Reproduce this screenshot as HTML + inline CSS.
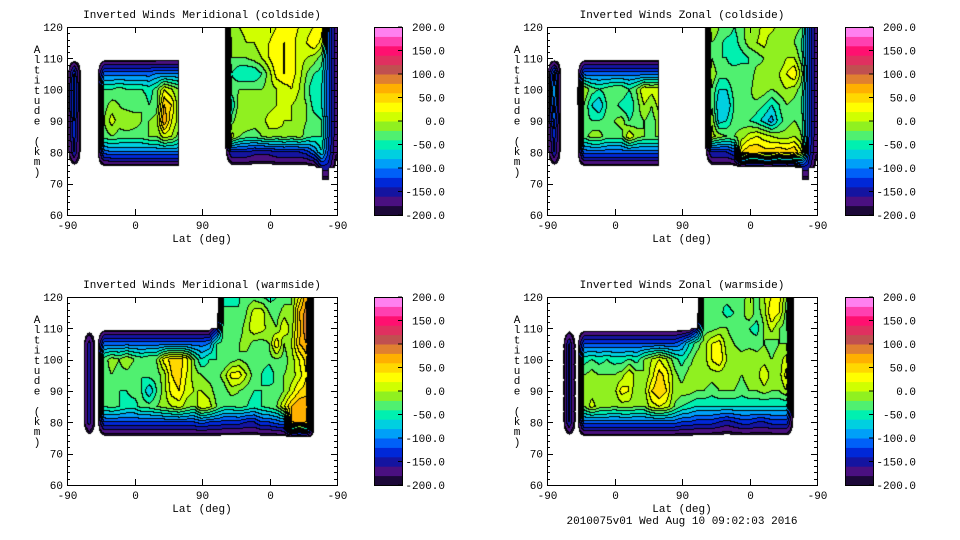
<!DOCTYPE html>
<html><head><meta charset="utf-8">
<style>
html,body{margin:0;padding:0;background:#fff;}
#wrap{position:relative;width:960px;height:540px;overflow:hidden;background:#fff;}
canvas{position:absolute;}
svg{position:absolute;left:0;top:0;}
text{font-family:"Liberation Mono",monospace;font-size:11px;fill:#000;}
</style></head>
<body>
<div id="wrap">
<svg id="svg" width="960" height="540"></svg>
</div>
<script>
const N = null;
const altLevels = [120,115,110,105,100,95,90,85,80,75,70];
const latStepDeg = 10;
const colorLevels = [-200,-180,-160,-140,-120,-100,-80,-60,-40,-20,0,20,40,60,80,100,120,140,160,180,200];
const levelColors = ["#1c0838","#4a1080","#1414a0","#0028d8","#0060f8","#00a0f8","#00d0e0","#00f0b0","#50f070","#90f020","#d0ff00","#ffff00","#ffd800","#ffb000","#e08030","#c05050","#e03060","#ff1070","#ff40b0","#ff80f0"];
const cbarTicks = [200,150,100,50,0,-50,-100,-150,-200];
const yTicks = [60,70,80,90,100,110,120];
const xTickLabels = ["-90","0","90","0","-90"];
const xTickPos = [0,90,180,270,360];
const blankBelow = -188;

const meridCold = [
[N,N,N,N, N,N,N,N,N,N,N,N,N,N,N,N, N,N,N,N,N, -200,0,0,10,10,10,10,20,30,30,20,10,20,40,-120,-180],
[N,N,N,N, N,N,N,N,N,N,N,N,N,N,N,N, N,N,N,N,N, -200,-10,-10,0,0,10,20,30,40,30,10,20,40,10,-120,-180],
[-200,-200,-200,N, -200,-200,-200,-200,-200,-200,-200,-200,-200,-200,-200,-200, N,N,N,N,N, -200,-20,-20,-20,-10,0,20,40,40,30,10,0,-10,-30,-120,-180],
[-200,-120,-200,N, -200,-110,-110,-110,-110,-110,-110,-110,-100,-100,-100,-100, N,N,N,N,N, -200,-40,-60,-60,-60,-40,-10,30,40,30,10,-20,-40,-50,-120,-180],
[-200,-110,-200,N, -200,-40,-40,-30,-40,-40,-40,-50,-30,20,0,-20, N,N,N,N,N, -200,-30,-20,-20,-20,-20,-10,0,10,20,0,-30,-60,-60,-120,-180],
[-200,-110,-200,N, -200,-30,-10,-20,-30,-30,-20,-40,-30,60,40,-20, N,N,N,N,N, -200,-60,-10,-10,-10,-10,-10,0,0,0,-10,-20,-50,-60,-120,-180],
[-200,-120,-200,N, -200,-20,10,-10,0,-10,-20,-20,-10,80,20,-10, N,N,N,N,N, -200,-30,0,0,-10,-10,10,20,0,0,-10,-20,-30,-40,-120,-180],
[-200,-130,-200,N, -200,-30,-20,-30,-30,-30,-30,-20,-20,10,0,-30, N,N,N,N,N, -200,10,-20,-30,-30,-20,-10,-20,-10,-20,-10,-30,-40,-40,-120,-180],
[-200,-140,-200,N, -200,-110,-100,-100,-100,-100,-100,-100,-100,-100,-100,-100, N,N,N,N,N, -200,-140,-140,-140,-150,-150,-150,-140,-140,-140,-140,-130,-100,-60,-130,-180],
[-200,-200,-200,N, -200,-200,-200,-200,-200,-200,-200,-200,-200,-200,-200,-200, N,N,N,N,N, -200,-200,-200,-200,-200,-200,-200,-200,-200,-200,-200,-200,-200,-150,-150,-200],
[N,N,N,N, N,N,N,N,N,N,N,N,N,N,N,N, N,N,N,N,N, N,N,N,N,N,N,N,N,N,N,N,N,N,-200,-200,N]
];
const zonalCold = [
[N,N,N,N, N,N,N,N,N,N,N,N,N,N,N,N, N,N,N,N,N, -200,0,-20,-20,-40,-30,0,-10,10,10,-10,-10,-10,-20,-120,-180],
[N,N,N,N, N,N,N,N,N,N,N,N,N,N,N,N, N,N,N,N,N, -200,-20,-30,-50,-50,-30,-10,0,10,-20,-20,-10,-20,-40,-120,-180],
[-200,-200,-200,N, -200,-200,-200,-200,-200,-200,-200,-200,-200,-200,-200,-200, N,N,N,N,N, -200,-20,-40,-40,-60,-50,-40,-30,-20,-10,-20,0,0,-30,-120,-180],
[-200,-100,-200,N, -200,-110,-110,-110,-110,-110,-110,-110,-110,-110,-110,-110, N,N,N,N,N, -200,0,-30,-30,-20,-20,-40,-10,-10,-20,0,20,40,-10,-120,-180],
[-200,-80,-200,N, -200,0,-30,-40,-30,-20,-20,-40,-20,20,10,20, N,N,N,N,N, -200,-20,-60,-60,-30,-20,-30,0,-10,-20,-10,0,-10,-30,-120,-180],
[-200,-90,-200,N, -200,-20,-60,-80,-40,-30,-50,-60,-30,0,-20,10, N,N,N,N,N, -200,-20,-80,-80,-40,-30,-20,-30,-40,-60,-40,-20,-30,-40,-120,-180],
[-200,-110,-200,N, -200,-30,-40,-40,-30,-20,-10,-40,-30,-20,-30,-10, N,N,N,N,N, -200,0,-70,-60,-30,-30,-40,-50,-70,-90,-50,-30,-20,-30,-120,-180],
[-200,-130,-200,N, -200,-30,-10,-10,-30,-30,-30,20,-10,-20,-20,-20, N,N,N,N,N, -200,10,-10,-20,-20,-10,10,20,10,0,-10,-10,0,-20,-120,-180],
[-200,-140,-200,N, -200,-110,-110,-110,-110,-110,-110,-110,-110,-110,-110,-110, N,N,N,N,N, -200,-140,-140,-140,-120,40,60,60,50,50,60,50,60,20,-130,-180],
[-200,-200,-200,N, -200,-200,-200,-200,-200,-200,-200,-200,-200,-200,-200,-200, N,N,N,N,N, -200,-200,-200,-200,-200,-200,-200,-200,-200,-200,-200,-200,-200,-150,-150,-200],
[N,N,N,N, N,N,N,N,N,N,N,N,N,N,N,N, N,N,N,N,N, N,N,N,N,N,N,N,N,N,N,N,N,N,-200,-200,N]
];
const meridWarm = [
[N,N,N,N,N,N,N,N,N,N,N,N,N,N,N,N,N,N,N,N, -200,-60,-60,-40,-30,-30,-40,-50,-40,-30,-20,20,80,-200, N,N,N],
[N,N,N,N,N,N,N,N,N,N,N,N,N,N,N,N,N,N,N,N, -200,-30,-30,-40,-20,10,10,-20,-30,-10,-20,60,90,-200, N,N,N],
[N,-200, -200,-200,-200,-200,-200,-200,-200,-200,-200,-200,-200,-200,-200,-200,-200,-200, -200,-200, -150, -20,-30,-30,-10,20,10,-10,-20,20,-10,50,100, -200, N,N,N],
[N,-200, -200,-150,-200, -110,-110,-110,-110,-110,-110,-110,-110,-110,-110,-110,-110,-110, -110,-100, -40,-30,-30,-20,-10,-30,-30,-20,40,-20,0,60,80, -200, N,N,N],
[N,-200, -200,-150,-200, -30,-10,-20,0,-20,-30,-20,-20,30,50,50,30,-20, -60,-40, -40,-40,-30,-20,-30,-40,-30,-30,-20,-30,-10,20,50, -200, N,N,N],
[N,-200, -200,-150,-200, -30,-20,-30,-30,-40,-40,-30,-30,-10,40,50,20,-10, -20,-30, -30,-10,30,30,0,-30,-40,-60,-30,-20,-10,10,40, -200, N,N,N],
[N,-200, -200,-150,-200, -30,-40,-40,-40,-30,-40,-80,-40,-10,30,40,10,0, 0,-10, -30,-30,-10,-20,-30,-40,-40,-30,-40,-20,10,40,50, -200, N,N,N],
[N,-200, -200,-150,-200, -40,-30,-40,-50,-50,-30,-30,-20,-10,0,10,-10,-20, 20,10, -20,-40,-40,-30,-40,-50,-40,-30,-20,20,60,80,80, -200, N,N,N],
[N,-200, -200,-150,-200, -120,-120,-120,-120,-120,-120,-120,-120,-120,-120,-120,-120,-120, -110,-120, -120,-130,-130,-130,-140,-140,-120,-120,-110,-100,60,70,60, -200, N,N,N],
[N,-200, -200,-200,-200, -200,-200,-200,-200,-200,-200,-200,-200,-200,-200,-200,-200,-200, -200,-200, -200,-200,-200,-200,-200,-200,-200,-200,-200,-200,-200,-200,-200, -200, N,N,N],
[N,N,N,N,N,N,N,N,N,N,N,N,N,N,N,N,N,N,N,N,N,N,N,N,N,N,N,N,N,N,N,N,N,N,N,N,N]
];
const zonalWarm = [
[N,N,N,N,N,N,N,N,N,N,N,N,N,N,N,N,N,N,N,N, -200,-40,-30,-40,-30,-20,-30,-10,-30,0,20,30,-20,-200, N,N,N],
[N,N,N,N,N,N,N,N,N,N,N,N,N,N,N,N,N,N,N,N, -200,-40,-40,-30,-50,-40,-30,0,-30,-10,40,20,-30,-200, N,N,N],
[N,-200, -200,-200,-200,-200,-200,-200,-200,-200,-200,-200,-200,-200,-200,-200,-200,-200, -200,-200, -150, -30,-30,-20,-20,-30,-20,-40,-50,-20,10,-20,-30, -200, N,N,N],
[N,-200, -200,-140,-200, -120,-120,-120,-120,-120,-120,-120,-120,-120,-120,-120,-120,-120, -100,-60, -30,-10,20,30,-10,-20,-30,-30,-30,-20,-30,-20,-20, -200, N,N,N],
[N,-200, -200,-140,-200, -50,-40,-50,-40,-50,-50,-40,-50,-20,0,20,0,-30, -50,-30, -10,-10,20,40,0,-10,-10,0,-10,-10,-20,-10,10, -200, N,N,N],
[N,-200, -200,-140,-200, -20,-10,-20,-20,-20,-10,20,-10,-20,10,50,30,-10, -30,-10, -10,-10,-10,-10,-20,-10,-20,-10,-10,20,-10,-10,30, -200, N,N,N],
[N,-200, -200,-140,-200, -20,-10,-10,-20,-10,30,20,-20,-10,40,60,40,-10, -10,-10, -20,-20,-30,-20,-20,-20,-30,-20,-20,-10,-20,-20,0, -200, N,N,N],
[N,-200, -200,-140,-200, -20,10,-10,-10,-20,-10,-10,-20,-20,10,20,10,-20, -40,-50, -60,-60,-60,-60,-60,-60,-60,-60,-60,-60,-60,-60,-60, -200, N,N,N],
[N,-200, -200,-140,-200, -110,-110,-110,-110,-110,-110,-110,-110,-110,-110,-110,-110,-110, -120,-120, -130,-130,-130,-140,-150,-140,-130,-130,-140,-140,-130,-130,-130, -200, N,N,N],
[N,-200, -200,-200,-200, -200,-200,-200,-200,-200,-200,-200,-200,-200,-200,-200,-200,-200, -200,-200, -200,-200,-200,-200,-200,-200,-200,-200,-200,-200,-200,-200,-200, -200, N,N,N],
[N,N,N,N,N,N,N,N,N,N,N,N,N,N,N,N,N,N,N,N,N,N,N,N,N,N,N,N,N,N,N,N,N,N,N,N,N]
];

const panels = [
 {name:"meridional-coldside", title:"Inverted Winds Meridional (coldside)", grid:meridCold, px:67, py:27, cbx:374},
 {name:"zonal-coldside", title:"Inverted Winds Zonal (coldside)", grid:zonalCold, px:547, py:27, cbx:845},
 {name:"meridional-warmside", title:"Inverted Winds Meridional (warmside)", grid:meridWarm, px:67, py:297, cbx:374},
 {name:"zonal-warmside", title:"Inverted Winds Zonal (warmside)", grid:zonalWarm, px:547, py:297, cbx:845}
];
const PW = 270, PH = 188;
const NS = "http://www.w3.org/2000/svg";
const svg = document.getElementById('svg');
const wrap = document.getElementById('wrap');

function xScale(p, d){ return p.px + d/360*PW; }
function yScale(p, a){ return p.py + (120-a)/60*PH; }
function levelOf(v){ let l = Math.floor((v+200)/20); return Math.max(0, Math.min(19, l)); }
function mk(tag, attrs, parent){
  const e = document.createElementNS(NS, tag);
  for (const k in attrs) e.setAttribute(k, attrs[k]);
  (parent||svg).appendChild(e); return e;
}
function txt(x,y,s,anchor,parent){
  const t = mk('text',{x:x,y:y,'text-anchor':anchor||'middle'},parent);
  t.textContent = s; return t;
}
function hexRGB(h){ return [parseInt(h.substr(1,2),16),parseInt(h.substr(3,2),16),parseInt(h.substr(5,2),16)]; }
const rgbColors = levelColors.map(hexRGB);

panels.forEach(function(p){
  const g = p.grid;
  const nr = g.length, nc = g[0].length;
  const cv = document.createElement('canvas');
  cv.width = PW; cv.height = PH;
  cv.style.left = p.px+'px'; cv.style.top = p.py+'px';
  
  
  wrap.insertBefore(cv, svg);
  const ctx = cv.getContext('2d');
  const lv = new Int16Array(PW*PH);
  const topAlt = altLevels[0], stepAlt = altLevels[0]-altLevels[1];
  for (let y=0;y<PH;y++){
    const alt = 120 - (y+0.5)/PH*60;
    const rf = (topAlt-alt)/stepAlt;
    let j0 = Math.floor(rf); if (j0 > nr-2) j0 = nr-2; if (j0<0) j0=0;
    const fy = rf - j0;
    for (let x=0;x<PW;x++){
      const d = (x+0.5)/PW*360;
      const cf = d/latStepDeg;
      let i0 = Math.floor(cf); if (i0 > nc-2) i0 = nc-2;
      const fx = cf - i0;
      const a=g[j0][i0], b=g[j0][i0+1], c=g[j0+1][i0], e=g[j0+1][i0+1];
      if (a===null||b===null||c===null||e===null || rf>nr-1){ lv[y*PW+x] = -1; continue; }
      const v = a*(1-fx)*(1-fy) + b*fx*(1-fy) + c*(1-fx)*fy + e*fx*fy;
      lv[y*PW+x] = v < blankBelow ? -1 : levelOf(v);
    }
  }
  const img = ctx.createImageData(PW, PH);
  for (let y=0;y<PH;y++) for (let x=0;x<PW;x++){
    const k = y*PW+x, l = lv[k], o = k*4;
    if (l<0){ img.data[o+3]=0; continue; }
    let line = false;
    if (x<PW-1 && lv[k+1]!==l) line = true;
    if (y<PH-1 && lv[k+PW]!==l) line = true;
    if (x>0 && lv[k-1]<0) line = true;
    if (y>0 && lv[k-PW]<0) line = true;
    const c = line ? [0,0,0] : rgbColors[l];
    img.data[o]=c[0]; img.data[o+1]=c[1]; img.data[o+2]=c[2]; img.data[o+3]=255;
  }
  ctx.putImageData(img,0,0);

  const frame = mk('rect',{x:p.px+0.5,y:p.py+0.5,width:PW,height:PH,fill:'none',stroke:'#000','stroke-width':1});
  
  
  const tt = txt(p.px+PW/2, p.py-9, p.title);
  
  
  for (let a=60; a<=120; a+=2){
    const y = Math.round(yScale(p,a))+0.5;
    const len = (a%10===0)?6:3;
    mk('line',{x1:p.px,x2:p.px+len,y1:y,y2:y,stroke:'#000'});
    mk('line',{x1:p.px+PW-len,x2:p.px+PW,y1:y,y2:y,stroke:'#000'});
  }
  yTicks.forEach(function(a){
    const t = txt(p.px-4, yScale(p,a)+4, String(a), 'end');
    
    
  });
  xTickPos.forEach(function(d,i){
    const x = Math.round(xScale(p,d))+0.5;
    mk('line',{x1:x,x2:x,y1:p.py,y2:p.py+6,stroke:'#000'});
    mk('line',{x1:x,x2:x,y1:p.py+PH-6,y2:p.py+PH,stroke:'#000'});
    const t = txt(x, p.py+PH+14, xTickLabels[i]);
    
    
  });
  const xl = txt(p.px+PW/2, p.py+PH+27, "Lat (deg)");
  
  
  const ylab = "Altitude (km)";
  const yg = mk('g',{});
  
  
  for (let i=0;i<ylab.length;i++){
    if (ylab[i]===' ') continue;
    txt(p.px-30, p.py+26+i*10.2, ylab[i], 'middle', yg);
  }
  const cbg = mk('g',{});
  
  
  const bh = PH/20, bw = 28;
  for (let i=0;i<20;i++){
    const r = mk('rect',{x:p.cbx, y:p.py+(200-colorLevels[i+1])/400*PH, width:bw, height:bh+0.5, fill:levelColors[i]}, cbg);
    
    
  }
  mk('rect',{x:p.cbx+0.5,y:p.py+0.5,width:bw,height:PH,fill:'none',stroke:'#000'},cbg);
  cbarTicks.forEach(function(v){
    const y = p.py + (200-v)/400*PH;
    mk('line',{x1:p.cbx+bw-4,x2:p.cbx+bw,y1:y,y2:y,stroke:'#000'},cbg);
    const t = txt(p.cbx+71, y+4, v.toFixed(1), 'end', cbg);
    
    
  });
});
const ft = txt(682, 524, "2010075v01 Wed Aug 10 09:02:03 2016");


</script>
</body></html>
